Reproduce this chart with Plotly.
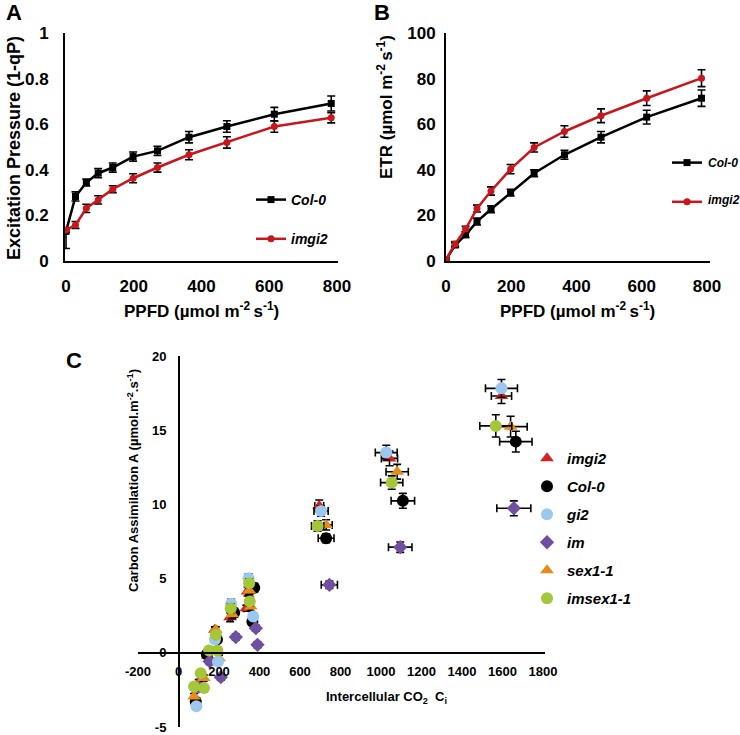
import plotly.graph_objects as go

W, H = 740, 735
FONT = "Liberation Sans, Arial, sans-serif"

# ---------------- Panels A & B data ----------------
ppfd = [0, 28, 60, 95, 138, 198, 270, 363, 475, 615, 783]

ep_col0 = [0.13, 0.283, 0.344, 0.385, 0.41, 0.458, 0.483, 0.543, 0.59, 0.644, 0.691]
ep_col0_err_up = [0.01, 0.02, 0.015, 0.02, 0.02, 0.02, 0.02, 0.025, 0.025, 0.03, 0.033]
ep_col0_err_dn = [0.075, 0.02, 0.015, 0.02, 0.02, 0.02, 0.02, 0.025, 0.025, 0.03, 0.033]
ep_imgi2 = [0.136, 0.158, 0.231, 0.268, 0.315, 0.363, 0.41, 0.466, 0.52, 0.59, 0.628]
ep_imgi2_err = [0.01, 0.015, 0.018, 0.018, 0.015, 0.02, 0.02, 0.022, 0.025, 0.025, 0.022]

etr_col0 = [0.5, 7, 11.5, 17.3, 22.7, 30, 38.5, 46.6, 54.3, 63.1, 71.4]
etr_col0_err = [0.5, 1, 1.2, 1.5, 1.5, 1.5, 1.5, 2, 2.5, 3, 3.6]
etr_imgi2 = [0.7, 7.5, 14, 23, 30.7, 40.3, 49.8, 56.8, 63.7, 71.4, 80.2]
etr_imgi2_err = [0.5, 1, 1.2, 1.5, 1.8, 2, 2, 2.5, 3, 3.2, 3.7]

# ---------------- Panel C data ----------------
imgi2_ci = [100, 145, 180, 255, 341, 335, 695, 1042, 1595]
imgi2_a = [-2.0, -0.2, 1.55, 2.4, 4.13, 3.0, 9.9, 13.1, 17.3]
imgi2_ci_err = [8, 8, 8, 10, 10, 10, 22, 40, 50]
imgi2_a_err = [0.2, 0.2, 0.2, 0.3, 0.3, 0.2, 0.4, 0.5, 0.5]

col0_ci = [85, 140, 190, 275, 374, 365, 729, 1108, 1666]
col0_a = [-3.28, -0.1, 0.9, 2.7, 4.38, 2.1, 7.72, 10.24, 14.23]
col0_ci_err = [8, 8, 8, 10, 10, 10, 39, 58, 80]
col0_a_err = [0.2, 0.2, 0.2, 0.3, 0.3, 0.2, 0.3, 0.5, 0.7]

gi2_ci = [88, 195, 180, 260, 346, 369, 704, 1026, 1595]
gi2_a = [-3.6, -0.6, 0.9, 3.3, 5.03, 2.45, 9.56, 13.49, 17.82]
gi2_ci_err = [8, 8, 8, 10, 10, 10, 35, 54, 79]
gi2_a_err = [0.2, 0.2, 0.2, 0.3, 0.3, 0.2, 0.35, 0.5, 0.6]

im_ci = [101, 154, 209, 283, 382, 390, 745, 1095, 1656]
im_a = [-2.27, -0.58, -1.64, 1.06, 1.66, 0.54, 4.58, 7.12, 9.74]
im_ci_err = [8, 8, 8, 10, 10, 10, 40, 58, 84]
im_a_err = [0.2, 0.2, 0.2, 0.2, 0.2, 0.2, 0.25, 0.35, 0.5]

sex_ci = [77, 125, 200, 184, 265, 357, 350, 729, 1080, 1640]
sex_a = [-2.94, -1.7, -0.36, 1.55, 2.6, 3.12, 4.2, 8.62, 12.2, 15.24]
sex_ci_err = [8, 8, 8, 8, 10, 10, 10, 30, 55, 82]
sex_a_err = [0.2, 0.2, 0.2, 0.2, 0.3, 0.3, 0.3, 0.35, 0.5, 0.7]

imsex_ci = [77, 126, 110, 151, 192, 184, 258, 352, 349, 687, 1053, 1567]
imsex_a = [-2.27, -2.38, -1.37, 0.16, 0.16, 1.21, 3.0, 3.46, 4.69, 8.55, 11.47, 15.29]
imsex_ci_err = [8, 8, 8, 8, 8, 8, 10, 10, 10, 30, 55, 79]
imsex_a_err = [0.2, 0.2, 0.2, 0.2, 0.2, 0.2, 0.3, 0.3, 0.3, 0.35, 0.45, 0.75]

# tick labels
a_yticks = [0, 0.2, 0.4, 0.6, 0.8, 1]
a_yticktext = ["0", "0.2", "0.4", "0.6", "0.8", "1"]
ab_xticks = [0, 200, 400, 600, 800]
b_yticks = [0, 20, 40, 60, 80, 100]
c_xticks = [-200, 0, 200, 400, 600, 800, 1000, 1200, 1400, 1600, 1800]
c_xticktext = ["-200", "0", "200", "400", "600", "800", "1000", "1200", "1400", "1600", "1800"]
c_yticks = [-5, 0, 5, 10, 15, 20]
c_yticktext = ["-5", "0", "5", "10", "15", "20"]


def fx(px):
    return px / W


def fy(py):
    return 1 - py / H


RED = "#C8161D"
fig = go.Figure()

eb = dict(color="black", thickness=1.6, width=4)

# Panel A
fig.add_trace(go.Scatter(x=ppfd, y=ep_col0, mode="lines+markers", name="Col-0",
                         line=dict(color="black", width=2.5),
                         marker=dict(symbol="square", size=7, color="black"),
                         error_y=dict(type="data", array=ep_col0_err_up, arrayminus=ep_col0_err_dn, symmetric=False, **eb),
                         xaxis="x", yaxis="y", legend="legend", legendgroup="a1"))
fig.add_trace(go.Scatter(x=ppfd, y=ep_imgi2, mode="lines+markers", name="imgi2",
                         line=dict(color=RED, width=2.5),
                         marker=dict(symbol="circle", size=7, color=RED),
                         error_y=dict(type="data", array=ep_imgi2_err, **eb),
                         xaxis="x", yaxis="y", legend="legend", legendgroup="a2"))
# Panel B (legend labels are written as annotations next to the legend symbols)
fig.add_trace(go.Scatter(x=ppfd, y=etr_col0, mode="lines+markers", name=" ",
                         line=dict(color="black", width=2.5),
                         marker=dict(symbol="square", size=7, color="black"),
                         error_y=dict(type="data", array=etr_col0_err, **eb),
                         xaxis="x2", yaxis="y2", legend="legend2", legendgroup="b1"))
fig.add_trace(go.Scatter(x=ppfd, y=etr_imgi2, mode="lines+markers", name=" ",
                         line=dict(color=RED, width=2.5),
                         marker=dict(symbol="circle", size=7, color=RED),
                         error_y=dict(type="data", array=etr_imgi2_err, **eb),
                         xaxis="x2", yaxis="y2", legend="legend2", legendgroup="b2"))

# Panel C
c_series = [
    ("imgi2", imgi2_ci, imgi2_a, imgi2_ci_err, imgi2_a_err, "#D42420", "triangle-up", 12, 1),
    ("Col-0", col0_ci, col0_a, col0_ci_err, col0_a_err, "black", "circle", 12, 2),
    ("im", im_ci, im_a, im_ci_err, im_a_err, "#6E4FA0", "diamond", 11, 4),
    ("sex1-1", sex_ci, sex_a, sex_ci_err, sex_a_err, "#E88A1A", "triangle-up", 12, 5),
    ("gi2", gi2_ci, gi2_a, gi2_ci_err, gi2_a_err, "#9CC8F0", "circle", 12, 3),
    ("imsex1-1", imsex_ci, imsex_a, imsex_ci_err, imsex_a_err, "#A4C639", "circle", 12, 6),
]
for name, cx, cy, ex, ey, col, sym, sz, rank in c_series:
    fig.add_trace(go.Scatter(x=cx, y=cy, mode="markers", name=name,
                             marker=dict(symbol=sym, size=sz, color=col),
                             error_x=dict(type="data", array=ex, **eb),
                             error_y=dict(type="data", array=ey, **eb),
                             xaxis="x3", yaxis="y3", legend="legend3",
                             legendgroup="c" + name, legendrank=rank))

tick_ab = dict(size=17, family=FONT, color="black", weight="bold")
tick_c = dict(size=13, family=FONT, color="black", weight="bold")
clear = "rgba(0,0,0,0)"

common_ab = dict(showgrid=False, zeroline=False, showline=True, linecolor="black", linewidth=2,
                 ticks="outside", tickcolor=clear, tickfont=tick_ab)

leg_font = dict(size=14, family=FONT, color="black", weight="bold", style="italic")
leg_font_b = dict(size=12, family=FONT, color="black", weight="bold", style="italic")

fig.update_layout(
    width=W, height=H,
    margin=dict(l=0, r=0, t=0, b=0, autoexpand=False),
    paper_bgcolor="white", plot_bgcolor="white",
    xaxis=dict(domain=[fx(65), fx(338)], range=[-3, 803], tickvals=ab_xticks, ticklen=9,
               anchor="y", **common_ab),
    yaxis=dict(domain=[fy(261), fy(33)], range=[0, 1], tickvals=a_yticks, ticktext=a_yticktext,
               ticklen=11, anchor="x", **common_ab),
    xaxis2=dict(domain=[fx(446), fx(710)], range=[0, 809], tickvals=ab_xticks, ticklen=9,
                anchor="y2", **common_ab),
    yaxis2=dict(domain=[fy(261), fy(33)], range=[0, 100], tickvals=b_yticks, ticklen=5,
                anchor="x2", **common_ab),
    xaxis3=dict(domain=[fx(138), fx(545)], range=[-200, 1810], tickvals=c_xticks, ticktext=c_xticktext,
                showgrid=False, zeroline=False, showline=True, linecolor="black", linewidth=2,
                ticks="outside", tickcolor=clear, ticklen=6, tickfont=tick_c,
                anchor="free", position=fy(653)),
    yaxis3=dict(domain=[fy(727), fy(356)], range=[-5, 20], tickvals=c_yticks, ticktext=c_yticktext,
                showgrid=False, zeroline=False, showline=True, linecolor="black", linewidth=2,
                ticks="outside", tickcolor=clear, ticklen=9, tickfont=tick_c,
                anchor="free", position=fx(179)),
    legend=dict(x=fx(251), y=fy(184), xanchor="left", yanchor="top", bgcolor=clear,
                font=leg_font, tracegroupgap=18, traceorder="grouped"),
    legend2=dict(x=fx(667), y=fy(147), xanchor="left", yanchor="top", bgcolor=clear,
                 font=leg_font, tracegroupgap=18, traceorder="grouped"),
    legend3=dict(x=fx(527), y=fy(442), xanchor="left", yanchor="top", bgcolor=clear,
                 font=dict(size=15, family=FONT, color="black", weight="bold", style="italic"),
                 tracegroupgap=5.5, traceorder="grouped"),
    showlegend=True,
)

ann_font17 = dict(size=17, family=FONT, color="black", weight="bold")
ann_font18 = dict(size=18, family=FONT, color="black", weight="bold")
ann_font13 = dict(size=13, family=FONT, color="black", weight="bold")
letter = dict(size=22, family=FONT, color="black", weight="bold")
annots = [
    dict(text="A", x=fx(14), y=fy(13), font=letter),
    dict(text="B", x=fx(382), y=fy(13), font=letter),
    dict(text="C", x=fx(74), y=fy(360), font=letter),
    dict(text="Excitation Pressure (1-qP)", x=fx(14), y=fy(148), textangle=-90, font=ann_font18),
    dict(text="PPFD (µmol m<sup>-2 </sup>s<sup>-1</sup>)", x=fx(201), y=fy(310), font=ann_font17),
    dict(text="ETR (µmol m<sup>-2 </sup>s<sup>-1</sup>)", x=fx(385), y=fy(107), textangle=-90, font=ann_font17),
    dict(text="PPFD (µmol m<sup>-2 </sup>s<sup>-1</sup>)", x=fx(577), y=fy(310), font=ann_font17),
    dict(text="Intercellular CO<sub>2</sub>  C<sub>i</sub>", x=fx(386), y=fy(697), font=ann_font13),
    dict(text="Carbon Assimilation A (µmol.m<sup>-2</sup>.s<sup>-1</sup>)", x=fx(133), y=fy(481),
         textangle=-90, font=ann_font13),
]
for a in annots:
    fig.add_annotation(xref="paper", yref="paper", showarrow=False, xanchor="center", yanchor="middle", **a)

# Panel B legend labels
b_legend_labels = ["Col-0", "imgi2"]
b_legend_rows = [163, 200]
for lab, row in zip(b_legend_labels, b_legend_rows):
    fig.add_annotation(xref="paper", yref="paper", showarrow=False, xanchor="left", yanchor="middle",
                       x=fx(706), y=fy(row), text=lab, font=leg_font_b)

# remove the default 8px page margin so the figure fills the window exactly; hide the mode bar
fig.write_html("out.html", config={"displayModeBar": False},
               post_script="document.body.style.margin='0px';")
